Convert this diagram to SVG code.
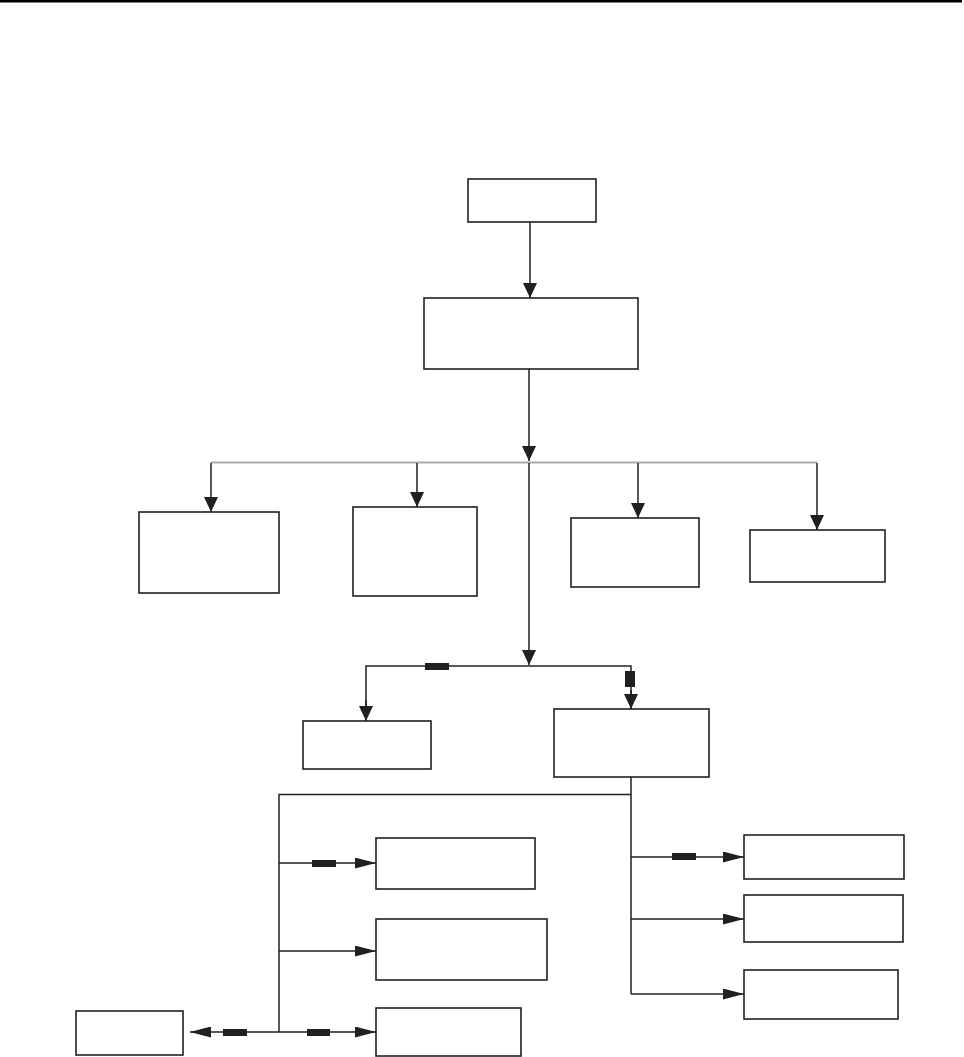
<svg xmlns="http://www.w3.org/2000/svg" width="964" height="1057" viewBox="0 0 964 1057">
<style>
.box{fill:#fff;stroke:#231f20;stroke-width:1.6}
.ln{fill:none;stroke:#231f20;stroke-width:1.5}
.gr{fill:none;stroke:#a7a9ac;stroke-width:2}
.bar{fill:#231f20}
</style>
<defs>
<marker id="ad" markerUnits="userSpaceOnUse" markerWidth="15" markerHeight="14" refX="15" refY="7" orient="auto" viewBox="0 0 15 14">
<path d="M0,0 L15,7 L0,14 z" fill="#231f20"/>
</marker>
<marker id="ah" markerUnits="userSpaceOnUse" markerWidth="21" markerHeight="11" refX="21" refY="5.5" orient="auto" viewBox="0 0 21 11">
<path d="M0,0 L21,5.5 L0,11 z" fill="#231f20"/>
</marker>
</defs>
<rect x="0" y="0" width="962" height="2.5" fill="#000"/>
<g id="connectors">
<line class="ln" x1="530" y1="222" x2="530" y2="298" marker-end="url(#ad)"/>
<line class="ln" x1="529" y1="369" x2="529" y2="461" marker-end="url(#ad)"/>
<line class="gr" x1="211" y1="462.5" x2="817" y2="462.5"/>
<line class="ln" x1="211" y1="463" x2="211" y2="512" marker-end="url(#ad)"/>
<line class="ln" x1="417" y1="463" x2="417" y2="507" marker-end="url(#ad)"/>
<line class="ln" x1="638" y1="463" x2="638" y2="518" marker-end="url(#ad)"/>
<line class="ln" x1="817" y1="463" x2="817" y2="530" marker-end="url(#ad)"/>
<line class="ln" x1="529" y1="463" x2="529" y2="665" marker-end="url(#ad)"/>
<polyline class="ln" points="366,721 366,666 631,666 631,709"/>
<line class="ln" x1="366" y1="700" x2="366" y2="721" marker-end="url(#ad)"/>
<line class="ln" x1="631" y1="690" x2="631" y2="709" marker-end="url(#ad)"/>
<rect class="bar" x="425" y="663" width="24" height="7"/>
<rect class="bar" x="625" y="671" width="10" height="16"/>
<line class="ln" x1="631" y1="777" x2="631" y2="994"/>
<polyline class="ln" points="631,794.5 279,794.5 279,1032"/>
<line class="ln" x1="279" y1="863" x2="376" y2="863" marker-end="url(#ah)"/>
<rect class="bar" x="312" y="860" width="24" height="7"/>
<line class="ln" x1="279" y1="951" x2="376" y2="951" marker-end="url(#ah)"/>
<line class="ln" x1="279" y1="1032" x2="376" y2="1032" marker-end="url(#ah)"/>
<rect class="bar" x="307" y="1029" width="23" height="7"/>
<line class="ln" x1="279" y1="1032" x2="190" y2="1032" marker-end="url(#ah)"/>
<rect class="bar" x="223" y="1029" width="24" height="7"/>
<line class="ln" x1="631" y1="857" x2="744" y2="857" marker-end="url(#ah)"/>
<rect class="bar" x="672" y="853" width="24" height="7"/>
<line class="ln" x1="631" y1="919" x2="744" y2="919" marker-end="url(#ah)"/>
<line class="ln" x1="631" y1="994" x2="744" y2="994" marker-end="url(#ah)"/>
</g>
<g id="n1"><rect class="box" x="468" y="179" width="128" height="43"/></g>
<g id="n2"><rect class="box" x="424" y="298" width="214" height="71"/></g>
<g id="n3"><rect class="box" x="139" y="512" width="140" height="81"/></g>
<g id="n4"><rect class="box" x="353" y="507" width="124" height="89"/></g>
<g id="n5"><rect class="box" x="571" y="518" width="128" height="69"/></g>
<g id="n6"><rect class="box" x="750" y="530" width="135" height="52"/></g>
<g id="n7"><rect class="box" x="303" y="721" width="128" height="48"/></g>
<g id="n8"><rect class="box" x="554" y="709" width="155" height="68"/></g>
<g id="n9"><rect class="box" x="376" y="838" width="159" height="51"/></g>
<g id="n10"><rect class="box" x="376" y="919" width="171" height="61"/></g>
<g id="n11"><rect class="box" x="76" y="1011" width="107" height="44"/></g>
<g id="n12"><rect class="box" x="376" y="1008" width="145" height="48"/></g>
<g id="n13"><rect class="box" x="744" y="835" width="160" height="44"/></g>
<g id="n14"><rect class="box" x="744" y="895" width="159" height="47"/></g>
<g id="n15"><rect class="box" x="744" y="970" width="154" height="49"/></g>
</svg>
